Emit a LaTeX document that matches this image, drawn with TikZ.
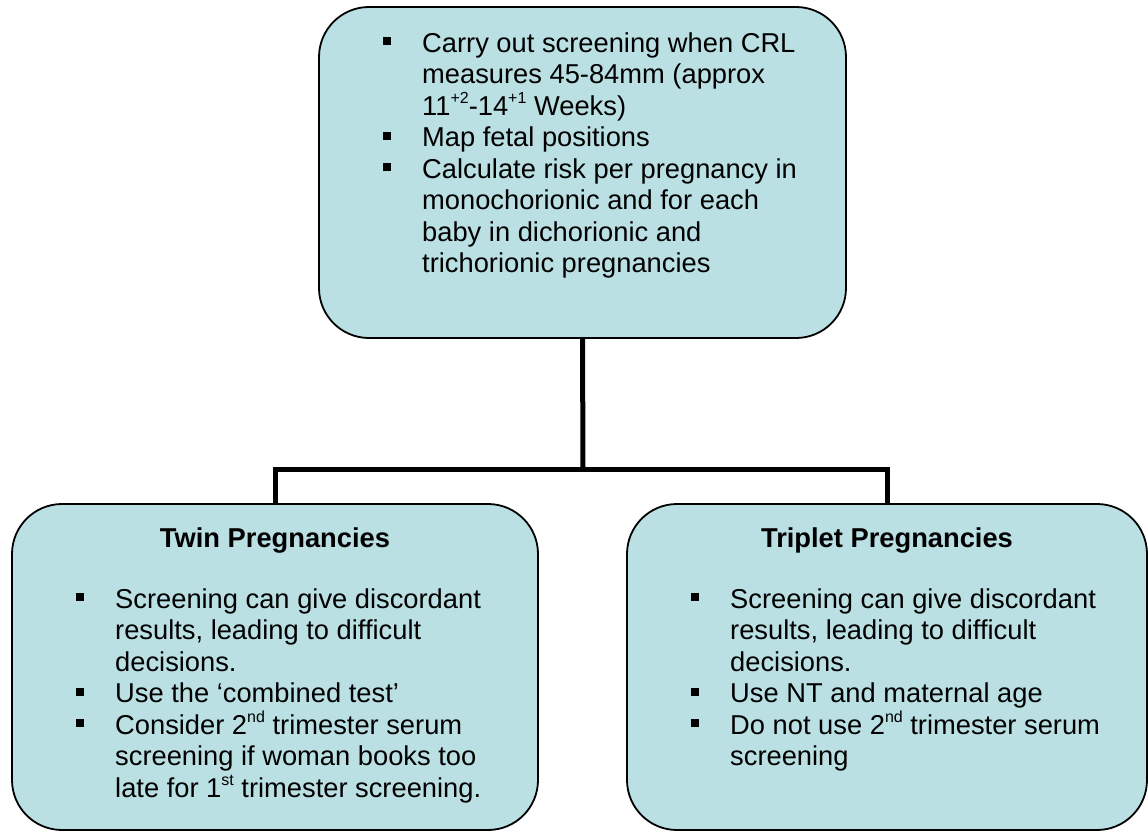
\documentclass[tikz,border=0pt]{standalone}
\usepackage{fontspec}
\setmainfont{Liberation Sans}
\definecolor{boxfill}{RGB}{186,224,227}
\newcommand{\bul}{\par\hangindent=39pt\hangafter=1\noindent\makebox[39pt][l]{\rule[7pt]{8pt}{8pt}}}
\newcommand{\fs}{\rule{0pt}{21pt}}
\newcommand{\sups}[1]{\raisebox{0.42em}{\fontsize{16}{16}\selectfont #1}}
\tikzset{
  box/.style={draw=black, line width=1.8pt, fill=boxfill, rounded corners=50pt, inner sep=0pt},
  conn/.style={draw=black, line width=5pt, line join=miter},
  txt/.style={anchor=north west, inner sep=0pt, font=\fontsize{27.3}{31.5}\selectfont},
  ttl/.style={anchor=base, inner sep=0pt, font=\fontsize{27.3}{31.5}\selectfont\bfseries},
}
\begin{document}
\begin{tikzpicture}[x=1pt,y=-1pt]
\useasboundingbox (0,0) rectangle (1148,832);
\node[box, minimum width=527pt, minimum height=331pt] (top) at (582.5,172.5) {};
\node[box, minimum width=526pt, minimum height=326pt] (tw) at (275,667) {};
\node[box, minimum width=520pt, minimum height=326pt] (tr) at (887,667) {};
\coordinate (j) at (583,469);
\draw[conn] (top.south) -- (j);
\draw[conn] (j) -| (tw.north);
\draw[conn] (j) -| (tr.north);

\node[txt] (toptext) at (383,31) {\begin{minipage}[t]{450pt}
\bul\fs Carry out screening when CRL\\ measures 45-84mm (approx\\ 11\sups{+2}-14\sups{+1} Weeks)
\bul Map fetal positions
\bul Calculate risk per pregnancy in\\ monochorionic and for each\\ baby in dichorionic and\\ trichorionic pregnancies
\end{minipage}};

\node[ttl] (twt) at (275,547) {Twin Pregnancies};
\node[txt] (twtext) at (76,587) {\begin{minipage}[t]{460pt}
\bul\fs Screening can give discordant\\ results, leading to difficult\\ decisions.
\bul Use the ‘combined test’
\bul Consider 2\sups{nd} trimester serum\\ screening if woman books too\\ late for 1\sups{st} trimester screening.
\end{minipage}};

\node[ttl] (trt) at (887,547) {Triplet Pregnancies};
\node[txt] (trtext) at (691,587) {\begin{minipage}[t]{450pt}
\bul\fs Screening can give discordant\\ results, leading to difficult\\ decisions.
\bul Use NT and maternal age
\bul Do not use 2\sups{nd} trimester serum\\ screening
\end{minipage}};
\end{tikzpicture}
\end{document}
